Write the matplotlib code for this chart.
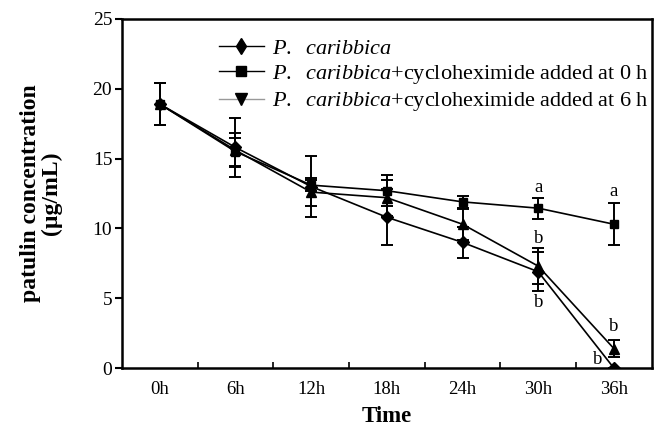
import matplotlib
matplotlib.use('Agg')
import matplotlib.pyplot as plt
from matplotlib.lines import Line2D

plt.rcParams['font.family'] = ['Liberation Serif', 'DejaVu Serif']
plt.rcParams['mathtext.fontset'] = 'custom'
plt.rcParams['mathtext.rm'] = 'Liberation Serif'
plt.rcParams['mathtext.it'] = 'Liberation Serif:italic'

# 데이터
time_labels = ['0h', '6h', '12h', '18h', '24h', '30h', '36h']
pc = [18.9, 15.8, 13.0, 10.8, 9.0, 6.9, 0.0]
pc_err = [1.5, 2.1, 2.2, 2.0, 1.1, 1.4, 0.0]
chx0 = [18.9, 15.5, 13.1, 12.7, 11.9, 11.45, 10.3]
chx0_err = [1.5, 1.0, 0.4, 1.1, 0.45, 0.75, 1.5]
chx6 = [18.9, 15.6, 12.6, 12.2, 10.3, 7.3, 1.4]
chx6_err = [1.5, 1.2, 1.0, 1.3, 1.1, 1.3, 0.6]

# 유의성 문자 (x index, y, 글자)
sig_pos = [5, 5, 5, 6, 6, 6]
sig_y = [12.3, 8.7, 4.1, 12.0, 2.4, 0.0]
sig_txt = ['a', 'b', 'b', 'a', 'b', 'b']
sig_dx = [0, 0, 0, 0, 0, -0.22]

legend_labels = [r'$\it{P.\ \ caribbica}$',
                 r'$\it{P.\ \ caribbica}\mathrm{+cycloheximide\ added\ at\ 0\ h}$',
                 r'$\it{P.\ \ caribbica}\mathrm{+cycloheximide\ added\ at\ 6\ h}$']


def plot_patulin():
    fig = plt.figure(figsize=(6.54, 4.30), dpi=100)
    ax = fig.add_axes([0.1865, 0.144, 0.81, 0.812])
    x = list(range(len(time_labels)))

    ekw = dict(color='black', lw=1.2, elinewidth=1.4, capsize=4, capthick=1.4)
    ax.errorbar(x, chx0, yerr=chx0_err, marker='s', ms=6, **ekw)
    ax.errorbar(x, chx6, yerr=chx6_err, marker='^', ms=7, **ekw)
    ax.errorbar(x, pc, yerr=pc_err, marker='D', ms=6, **ekw)

    for xi, yi, t, dx in zip(sig_pos, sig_y, sig_txt, sig_dx):
        ax.text(xi + dx, yi, t, ha='center', va='bottom', fontsize=13.5)

    ax.set_xlim(-0.5, 6.5)
    ax.set_ylim(0, 25)
    ax.set_xticks(x)
    ax.set_xticklabels(time_labels, fontsize=13.5)
    ax.set_xticks([i + 0.5 for i in range(6)], minor=True)
    ax.tick_params(axis='x', which='major', length=0, pad=9)
    ax.tick_params(axis='x', which='minor', direction='in', length=4, width=1.2)
    ax.set_yticks([0, 5, 10, 15, 20, 25])
    ax.tick_params(axis='y', direction='out', length=5, width=1.5, labelsize=14, pad=2)

    for s in ax.spines.values():
        s.set_linewidth(1.8)

    ax.set_xlabel('Time', fontsize=16.5, fontweight='bold', labelpad=6)
    ax.set_ylabel('patulin concentration\n(\u00b5g/mL)', fontsize=17,
                  fontweight='bold', labelpad=22, linespacing=1.0)

    handles = [
        Line2D([], [], color='black', lw=1, marker='d', ms=8),
        Line2D([], [], color='black', lw=1, marker='s', ms=7),
        Line2D([], [], color='#999999', lw=1, marker='v', ms=8,
               mfc='black', mec='black'),
    ]
    ax.legend(handles, legend_labels, loc='upper left',
              bbox_to_anchor=(0.154, 0.99), frameon=False,
              prop={'family': 'Liberation Serif', 'size': 16},
              handlelength=2.0, handletextpad=0.4, labelspacing=0.2,
              borderpad=0.2)

    plt.savefig('out.png', dpi=100)


if __name__ == "__main__":
    plot_patulin()
